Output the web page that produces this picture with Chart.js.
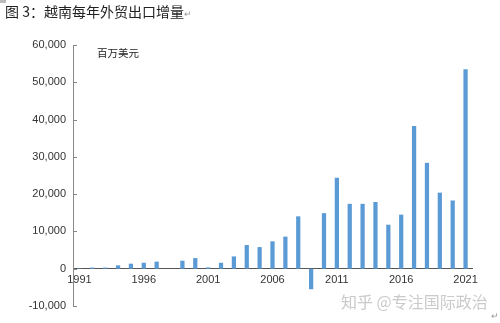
<!DOCTYPE html>
<html lang="zh">
  <head>
    <meta charset="UTF-8" />
    <title>越南每年外贸出口增量</title>
    <script src="https://cdn.jsdelivr.net/npm/chart.js"></script>
    <style>
      body { margin: 0; background: #fff; }
      #wrap { position: relative; width: 500px; height: 323px; overflow: hidden; }
      canvas { position: absolute; left: 0; top: 0; }
      .txt { position: absolute; white-space: nowrap; font-family: "Noto Sans CJK SC", sans-serif; }
      #title { left: 5px; top: 1px; font-size: 14px; color: #222; }
      #unit { left: 97px; top: 45px; font-size: 10.5px; color: #222; }
      #mark { left: 341px; top: 289px; font-size: 16px; color: #cacaca; }
      .ret { color: #999; font-size: 9px; }
      #corner { position: absolute; left: 0; top: 0; width: 6px; height: 3px; background: #bbb; }
    </style>
  </head>
  <body>
    <div id="wrap">
      <canvas id="chart" width="500" height="323"></canvas>
      <div id="corner"></div>
      <div class="txt" id="title">图 3：越南每年外贸出口增量<span class="ret">↵</span></div>
      <div class="txt" id="unit">百万美元</div>
      <div class="txt" id="mark">知乎 @专注国际政治</div>
      <div class="txt ret" style="left:491px; top:309px;">↵</div>
    </div>
    <script>
      // 年份
      const years = [];
      for (let y = 1991; y <= 2021; y++) years.push(String(y));

      // 出口增量（百万美元），1998 年无柱
      const increments = [
        100, 300, 300, 900, 1350, 1600, 1900, null, 2150, 2850,
        350, 1600, 3300, 6350, 5800, 7350, 8600, 14050, -5500, 14900,
        24400, 17400, 17400, 17900, 11800, 14500, 38300, 28400, 20400, 18300,
        53500,
      ];

      // 只显示每隔 5 年的标签
      const shownYears = ["1991", "1996", "2001", "2006", "2011", "2016", "2021"];

      // y 轴内侧短刻度
      const innerTicks = {
        id: "innerTicks",
        afterDraw(chart) {
          const ctx = chart.ctx;
          const ys = chart.scales.y;
          ctx.save();
          ctx.strokeStyle = "#888";
          ctx.lineWidth = 1;
          ys.ticks.forEach((t) => {
            const py = Math.round(ys.getPixelForValue(t.value)) + 0.5;
            ctx.beginPath();
            ctx.moveTo(ys.right, py);
            ctx.lineTo(ys.right + 4, py);
            ctx.stroke();
          });
          ctx.restore();
        },
      };

      const ctx = document.getElementById("chart").getContext("2d");
      new Chart(ctx, {
        type: "bar",
        data: {
          labels: years,
          datasets: [
            {
              data: increments,
              backgroundColor: "#5b9bd5",
              barPercentage: 0.33,
              categoryPercentage: 1,
            },
          ],
        },
        options: {
          responsive: false,
          animation: false,
          locale: "en-US",
          layout: { padding: { left: 0, right: 28, top: 45, bottom: 17 } },
          plugins: { legend: { display: false }, tooltip: { enabled: false } },
          scales: {
            x: {
              position: { y: 0 },
              grid: { display: false, drawTicks: false },
              border: { color: "#555", width: 1 },
              ticks: {
                autoSkip: false,
                maxRotation: 0,
                padding: 5,
                color: "#333",
                font: { family: "Liberation Sans", size: 11 },
                callback(v) {
                  const lab = this.getLabelForValue(v);
                  return shownYears.includes(lab) ? lab : "";
                },
              },
            },
            y: {
              min: -10000,
              max: 60000,
              ticks: {
                stepSize: 10000,
                padding: 7,
                color: "#333",
                font: { family: "Liberation Sans", size: 11 },
              },
              grid: { display: false, drawTicks: false },
              border: { color: "#888", width: 1 },
              afterFit(s) {
                s.width = 73;
              },
            },
          },
        },
        plugins: [innerTicks],
      });
    </script>
  </body>
</html>
